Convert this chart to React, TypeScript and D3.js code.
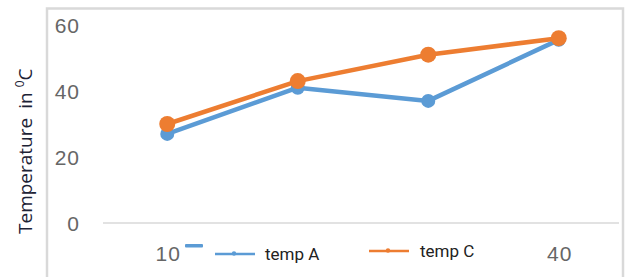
import { useEffect, useRef } from 'react';
import * as d3 from 'd3';

const categories = ['10', '20', '30', '40'];
// only the outer category labels stay visible, the legend sits over the others
const visibleXLabels = ['10', '40'];
const tempA = [27, 41, 37, 55.5];
const tempC = [30, 43, 51, 56];
const yTicks = [0, 20, 40, 60];

const WIDTH = 626;
const HEIGHT = 277;

export default function App() {
  const svgRef = useRef<SVGSVGElement>(null);

  useEffect(() => {
    if (!svgRef.current) return;
    const svg = d3.select(svgRef.current);
    svg.selectAll('*').remove();

    const x = d3.scaleBand().domain(categories).range([102, 624]).padding(0);
    const y = d3.scaleLinear().domain([0, 60]).range([223, 25]);
    const cx = (c: string) => (x(c) ?? 0) + x.bandwidth() / 2;

    svg.append('rect').attr('width', WIDTH).attr('height', HEIGHT).attr('fill', '#fff');

    // chart frame
    svg
      .append('path')
      .attr('d', `M47,${HEIGHT} V8.5 H623 V${HEIGHT}`)
      .attr('fill', 'none')
      .attr('stroke', '#d9d9d9')
      .attr('stroke-width', 2.5);

    // y axis label
    const label = svg
      .append('text')
      .attr('transform', 'translate(32,234) rotate(-90)')
      .attr('font-family', 'Open Sans, sans-serif')
      .attr('font-size', 19)
      .attr('fill', '#1c2235');
    label.append('tspan').text('Temperature');
    label.append('tspan').attr('dx', 9).text('in');
    label.append('tspan').attr('dx', 5).attr('font-size', 12).attr('dy', -8).text('0');
    label.append('tspan').attr('dy', 8).text('C');

    // y tick labels
    svg
      .append('g')
      .selectAll('text')
      .data(yTicks)
      .enter()
      .append('text')
      .attr('x', 80)
      .attr('y', (d) => y(d) + 7.5)
      .attr('text-anchor', 'end')
      .attr('font-family', 'Liberation Sans, sans-serif')
      .attr('font-size', 21)
      .attr('letter-spacing', 1)
      .attr('fill', '#666')
      .text((d) => d);

    // baseline
    svg
      .append('line')
      .attr('x1', 103)
      .attr('x2', 619)
      .attr('y1', y(0))
      .attr('y2', y(0))
      .attr('stroke', '#d9d9d9')
      .attr('stroke-width', 1.5);

    // x tick labels
    svg
      .append('g')
      .selectAll('text')
      .data(visibleXLabels)
      .enter()
      .append('text')
      .attr('x', (d) => cx(d) + 1)
      .attr('y', 261)
      .attr('text-anchor', 'middle')
      .attr('font-family', 'Liberation Sans, sans-serif')
      .attr('font-size', 21)
      .attr('letter-spacing', 1)
      .attr('fill', '#666')
      .text((d) => d);

    const series = [
      { name: 'temp A', values: tempA, color: '#5b9bd5', r: 7 },
      { name: 'temp C', values: tempC, color: '#ed7d31', r: 8 }
    ];

    const line = d3
      .line<number>()
      .x((_, i) => cx(categories[i]))
      .y((d) => y(d));

    series.forEach((s) => {
      const g = svg.append('g');
      g.append('path')
        .attr('d', line(s.values))
        .attr('fill', 'none')
        .attr('stroke', s.color)
        .attr('stroke-width', 4.5)
        .attr('stroke-linejoin', 'round');
      g.selectAll('circle')
        .data(s.values)
        .enter()
        .append('circle')
        .attr('cx', (_, i) => cx(categories[i]))
        .attr('cy', (d) => y(d))
        .attr('r', s.r)
        .attr('fill', s.color);
    });

    // legend (white box over the axis labels)
    const legend = svg.append('g');
    legend
      .append('rect')
      .attr('x', 186)
      .attr('y', 236)
      .attr('width', 316)
      .attr('height', 41)
      .attr('fill', '#fff');
    legend
      .append('rect')
      .attr('x', 185)
      .attr('y', 244)
      .attr('width', 18)
      .attr('height', 3.5)
      .attr('rx', 1)
      .attr('fill', '#5b9bd5');

    const legendItems = [
      { ...series[0], lx: 215, ly: 254, tx: 265 },
      { ...series[1], lx: 369, ly: 251, tx: 420 }
    ];
    legendItems.forEach((it) => {
      legend
        .append('line')
        .attr('x1', it.lx)
        .attr('x2', it.lx + 40)
        .attr('y1', it.ly)
        .attr('y2', it.ly)
        .attr('stroke', it.color)
        .attr('stroke-width', 2.5);
      legend
        .append('circle')
        .attr('cx', it.lx + 19)
        .attr('cy', it.ly - 0.5)
        .attr('r', 2.2)
        .attr('fill', it.color);
      legend
        .append('text')
        .attr('x', it.tx)
        .attr('y', it.ly + 6)
        .attr('font-family', 'Liberation Sans Narrow, Roboto, sans-serif')
        .attr('font-size', 17)
        .attr('fill', '#222')
        .text(it.name);
    });
  }, []);

  return (
    <svg
      ref={svgRef}
      width={WIDTH}
      height={HEIGHT}
      style={{ position: 'absolute', left: 0, top: 0, display: 'block' }}
    />
  );
}
